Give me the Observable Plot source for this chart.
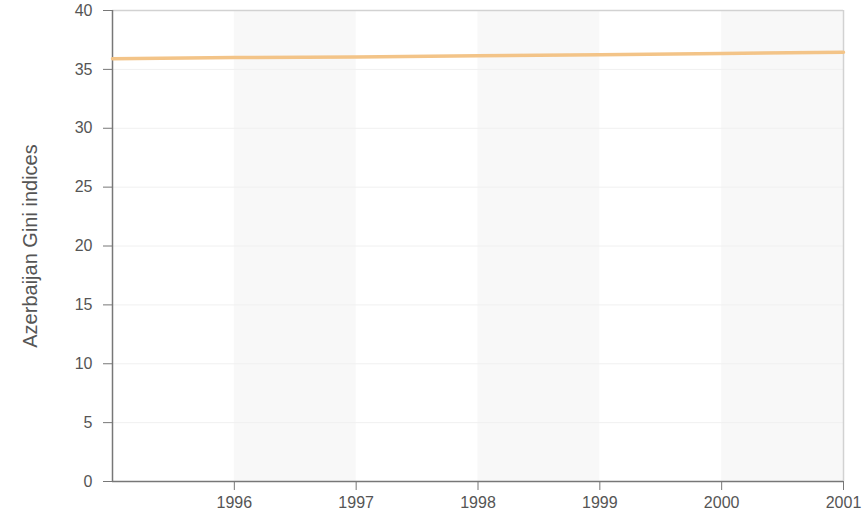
<!DOCTYPE html>
<html>
<head>
<meta charset="utf-8">
<script src="https://cdn.jsdelivr.net/npm/d3@7"></script>
<script src="https://cdn.jsdelivr.net/npm/@observablehq/plot@0.6"></script>
<style>
  html, body { margin: 0; padding: 0; background: #fff; }
  #chart svg { display: block; }
</style>
</head>
<body>
<div id="chart"></div>
<script>
const years = [1995, 1996, 1997, 1998, 1999, 2000, 2001];
const gini = [35.9, 36.0, 36.05, 36.15, 36.25, 36.35, 36.45];
const bandStarts = [1996, 1998, 2000];
const xTicks = [1996, 1997, 1998, 1999, 2000, 2001];
const yTicks = [0, 5, 10, 15, 20, 25, 30, 35, 40];
const yLabel = "Azerbaijan Gini indices";

const data = years.map((y, i) => ({year: y, value: gini[i]}));
const bands = bandStarts.map(s => ({x1: s, x2: s + 1}));

const chart = Plot.plot({
  width: 865,
  height: 525,
  marginLeft: 112,
  marginRight: 22,
  marginTop: 10,
  marginBottom: 44,
  style: {fontFamily: "Liberation Sans, Arial, sans-serif", color: "#555", background: "#fff"},
  x: {domain: [1995, 2001]},
  y: {domain: [0, 40]},
  marks: [
    Plot.rect(bands, {x1: "x1", x2: "x2", y1: 0, y2: 40, fill: "#f8f8f8"}),
    Plot.ruleY(yTicks.filter(d => d > 0), {stroke: "#f0f0f0", strokeWidth: 1}),
    Plot.ruleY([40], {stroke: "#d2d2d2", strokeWidth: 1.5}),
    Plot.ruleX([2001], {stroke: "#d2d2d2", strokeWidth: 1.5}),
    Plot.axisY({ticks: yTicks, tickSize: 9, tickPadding: 11, stroke: "#777", label: yLabel, labelAnchor: "center", labelArrow: "none", labelOffset: 90}),
    Plot.axisX({ticks: xTicks, tickSize: 9, tickPadding: 6, stroke: "#777", tickFormat: d => String(d), label: null}),
    Plot.ruleX([1995], {stroke: "#777", strokeWidth: 1.5}),
    Plot.ruleY([0], {stroke: "#777", strokeWidth: 1.5}),
    Plot.line(data, {x: "year", y: "value", stroke: "#f3c488", strokeWidth: 3.5})
  ]
});
chart.querySelectorAll("text").forEach(t => {
  const isTitle = t.textContent.trim() === yLabel;
  t.setAttribute("font-size", isTitle ? "20" : "16");
  t.style.setProperty("font-size", isTitle ? "20px" : "16px", "important");
  t.style.setProperty("fill", "#555", "important");
});
document.getElementById("chart").appendChild(chart);
</script>
</body>
</html>
